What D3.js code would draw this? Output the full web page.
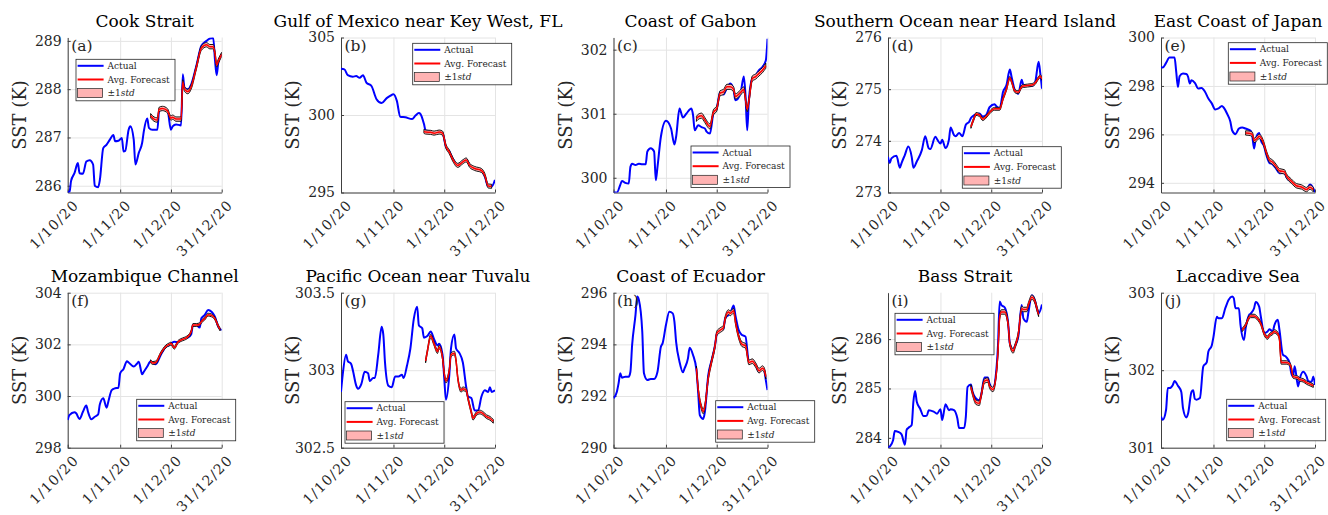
<!DOCTYPE html>
<html>
<head>
<meta charset="utf-8">
<script src="https://cdn.jsdelivr.net/npm/d3@7"></script>
<style>
  body { margin: 0; background: #fff; }
  svg text { font-family: "DejaVu Serif", serif; fill: #262626; }
  .ttl { font-size: 17px; fill: #000; }
  .ylab { font-size: 18px; }
  .tag { font-size: 15.5px; }
  .leg text { font-size: 9px; }
  .yaxis text { font-size: 14px; }
  .xaxis text { font-size: 14px; letter-spacing: 1.2px; }
  .grid line { stroke: #e4e4e4; stroke-width: 1; }
  .grid .domain { display: none; }
  .yaxis .domain, .xaxis .domain { stroke: #404040; stroke-width: 1; }
  .yaxis line, .xaxis line { stroke: #404040; }
</style>
</head>
<body>
<div id="chart"></div>
<script>
// panel titles and tags
var titles = ["Cook Strait", "Gulf of Mexico near Key West, FL", "Coast of Gabon",
  "Southern Ocean near Heard Island", "East Coast of Japan", "Mozambique Channel",
  "Pacific Ocean near Tuvalu", "Coast of Ecuador", "Bass Strait", "Laccadive Sea"];
var tags = ["(a)", "(b)", "(c)", "(d)", "(e)", "(f)", "(g)", "(h)", "(i)", "(j)"];

// y limits and ticks (SST in K)
var yDomains = [[285.86, 289.07], [295, 305], [299.77, 302.19], [273, 276], [293.6, 300],
  [298, 304], [302.5, 303.5], [290, 296], [283.8, 286.94], [301, 303]];
var yTicks = [[286, 287, 288, 289], [295, 300, 305], [300, 301, 302], [273, 274, 275, 276],
  [294, 296, 298, 300], [298, 300, 302, 304], [302.5, 303, 303.5], [290, 292, 294, 296],
  [284, 285, 286], [301, 302, 303]];

// x ticks
var xTickDates = ["2020-10-01", "2020-11-01", "2020-12-01", "2020-12-31"];

// actual SST: [day since 1/10/20, K]
var actualA = [[0,285.88],[1,285.86],[2,286.1],[4,286.26],[6,286.47],[7,286.26],[9,286.25],[11,286.5],[13,286.53],[15,286.44],[16,286.0],[18,285.97],[19,286.12],[21,286.78],[23,286.85],[25,286.96],[27,287.05],[28,286.92],[30,286.93],[32,286.99],[33,286.71],[34,286.72],[36,287.16],[37,287.23],[39,286.96],[40,286.44],[42,286.68],[44,286.89],[45,287.13],[47,287.39],[48,287.2],[50,287.16],[53,287.16],[54,287.55],[56,287.58],[59,287.55],[61,287.16],[62,287.23],[64,287.27],[67,287.25],[68,288.31],[69,288.03],[71,288.0],[73,288.1],[76,288.48],[79,288.9],[82,289.0],[84,289.05],[86,289.06],[87,288.62],[88,288.29],[89,288.55],[91,288.72]];
var actualB = [[0,302.98],[2,302.94],[4,302.57],[7,302.47],[9,302.51],[11,302.4],[13,302.57],[15,302.09],[18,301.87],[21,301.02],[24,300.77],[27,301.09],[29,301.23],[31,301.34],[33,300.91],[35,299.89],[38,299.85],[42,299.74],[44,299.96],[46,300.13],[47,300.06],[49,299.43],[50,299.0],[53,298.94],[55,298.83],[58,298.89],[60,298.83],[62,297.94],[64,297.66],[66,297.19],[69,296.77],[72,297.02],[74,297.13],[76,296.77],[79,296.55],[83,296.4],[85,296.02],[87,295.38],[89,295.38],[91,295.81]];
var actualC = [[0,299.77],[2,299.77],[4,299.89],[5,299.95],[7,299.92],[9,299.91],[10,300.17],[11,300.22],[13,300.2],[15,300.22],[17,300.21],[19,300.21],[20,300.41],[22,300.46],[24,300.41],[25,299.96],[26,300.17],[28,300.64],[31,300.89],[34,300.77],[36,300.52],[37,300.64],[39,301.08],[41,300.94],[43,301.0],[46,301.08],[47,300.98],[48,300.74],[50,300.82],[52,300.79],[54,300.77],[55,300.72],[57,300.69],[59,301.0],[61,301.08],[63,301.34],[65,301.3],[67,301.4],[69,301.47],[71,301.37],[72,301.21],[75,301.31],[77,301.58],[78,301.29],[79,300.74],[80,301.21],[82,301.55],[84,301.6],[86,301.68],[88,301.73],[90,301.83],[91,302.17]];
var actualD = [[0,273.69],[1,273.57],[2,273.66],[5,273.71],[7,273.48],[8,273.57],[10,273.73],[12,273.89],[14,273.69],[15,273.48],[17,273.6],[20,273.82],[22,274.09],[24,273.86],[25,273.84],[28,274.08],[29,274.03],[31,273.95],[32,274.02],[34,273.86],[36,274.02],[37,274.26],[39,274.11],[40,274.09],[42,274.15],[44,274.09],[46,274.31],[48,274.37],[49,274.44],[51,274.5],[54,274.53],[56,274.47],[58,274.5],[60,274.65],[63,274.71],[64,274.67],[66,274.63],[68,274.95],[70,275.08],[72,275.38],[73,275.24],[75,274.98],[77,274.91],[79,275.18],[80,275.08],[82,275.06],[85,275.06],[87,275.14],[89,275.53],[90,275.3],[91,275.01]];
var actualE = [[0,298.79],[1,298.76],[3,298.95],[5,299.17],[8,299.17],[9,298.58],[10,297.96],[11,298.4],[13,298.51],[15,298.49],[16,298.38],[17,298.1],[18,298.24],[20,298.13],[22,297.89],[24,297.92],[26,297.76],[28,297.48],[30,297.28],[32,297.03],[34,297.07],[36,297.17],[37,297.11],[39,296.86],[41,296.52],[42,296.17],[44,296.01],[46,296.24],[48,296.28],[50,296.24],[53,296.15],[54,295.9],[55,295.42],[56,295.83],[58,296.06],[59,295.76],[61,295.49],[62,295.21],[64,294.83],[66,294.76],[68,294.59],[70,294.39],[73,294.41],[74,294.25],[77,294.04],[80,293.86],[83,293.81],[86,293.73],[88,293.93],[90,293.77],[91,293.6]];
var actualF = [[0,299.07],[1,299.26],[4,299.37],[5,299.33],[7,299.11],[9,299.39],[11,299.63],[12,299.39],[14,299.1],[16,299.2],[18,299.29],[19,299.68],[21,299.91],[23,299.55],[24,299.78],[26,300.23],[28,300.3],[30,300.32],[31,300.88],[33,301.05],[35,301.35],[36,301.3],[39,301.14],[41,301.26],[42,301.33],[44,300.84],[45,300.94],[47,301.14],[49,301.35],[50,301.3],[52,301.23],[55,301.59],[58,301.91],[60,301.97],[62,302.08],[63,302.1],[65,302.08],[67,302.17],[69,302.23],[71,302.26],[73,302.39],[74,302.75],[76,302.75],[78,302.65],[79,303.01],[81,303.14],[83,303.33],[85,303.26],[87,303.07],[89,302.68],[91,302.55]];
var actualG = [[0,302.86],[1,302.97],[3,303.1],[4,303.06],[6,303.04],[7,303.0],[9,302.9],[10,302.88],[12,302.91],[14,302.99],[16,302.98],[17,302.93],[19,302.95],[20,302.95],[22,303.1],[24,303.28],[25,303.23],[26,303.05],[28,302.9],[30,302.89],[32,302.96],[34,302.96],[36,302.97],[37,302.95],[39,303.03],[41,303.14],[43,303.33],[45,303.41],[46,303.29],[48,303.27],[49,303.21],[51,303.22],[53,303.25],[55,303.2],[57,303.16],[58,303.17],[60,303.1],[61,302.95],[62,302.81],[64,302.97],[65,303.14],[67,303.23],[68,303.14],[70,303.11],[72,303.05],[74,302.89],[75,302.83],[77,302.82],[79,302.74],[81,302.74],[83,302.83],[85,302.87],[87,302.86],[88,302.89],[89,302.86],[91,302.87]];
var actualH = [[0,291.91],[2,292.17],[3,292.49],[4,292.88],[5,292.71],[7,292.75],[9,292.75],[10,292.94],[11,293.97],[13,295.14],[14,295.85],[15,295.72],[17,294.49],[18,292.88],[20,292.62],[22,292.66],[24,292.66],[26,292.94],[28,293.91],[29,294.04],[31,294.75],[33,295.26],[35,295.2],[36,294.88],[37,294.1],[39,293.33],[41,292.92],[42,293.07],[44,293.46],[45,293.87],[47,293.59],[49,293.01],[50,292.17],[51,291.26],[53,291.11],[54,291.39],[56,292.81],[58,293.39],[60,293.97],[61,294.39],[63,294.52],[65,294.62],[66,295.01],[68,295.14],[69,295.2],[71,295.5],[72,295.14],[74,294.55],[76,294.36],[78,294.3],[80,293.33],[82,293.39],[84,293.2],[86,292.94],[88,293.07],[89,293.01],[90,292.62],[91,292.23]];
var actualI = [[0,283.8],[1,283.82],[3,283.95],[4,284.14],[6,284.12],[8,284.07],[10,283.86],[11,284.16],[12,284.2],[14,284.26],[15,284.73],[16,284.95],[17,284.73],[19,284.59],[21,284.44],[23,284.45],[24,284.56],[27,284.53],[29,284.49],[31,284.58],[32,284.36],[34,284.68],[36,284.56],[37,284.58],[39,284.56],[41,284.39],[42,284.2],[45,284.2],[46,284.43],[47,285.03],[49,285.08],[50,284.93],[52,284.8],[54,284.76],[55,284.86],[57,285.22],[59,285.22],[60,285.1],[62,285.0],[64,285.37],[65,285.88],[66,286.76],[67,286.69],[69,286.64],[71,286.32],[72,285.91],[74,285.78],[75,285.86],[77,286.05],[79,286.69],[80,286.42],[82,286.35],[83,286.55],[85,286.89],[87,286.76],[88,286.62],[89,286.52],[91,286.7]];
var actualJ = [[0,301.4],[1,301.36],[3,301.49],[4,301.77],[5,301.77],[7,301.81],[8,301.86],[10,301.8],[12,301.72],[13,301.51],[15,301.39],[16,301.44],[18,301.72],[19,301.74],[20,301.63],[21,301.62],[23,301.64],[25,302.05],[27,302.1],[28,302.24],[30,302.32],[31,302.43],[33,302.69],[34,302.67],[36,302.67],[38,302.8],[40,302.91],[42,302.95],[43,302.93],[44,302.8],[46,302.8],[47,302.58],[49,302.39],[50,302.54],[52,302.71],[53,302.73],[55,302.8],[56,302.88],[58,302.82],[59,302.69],[61,302.48],[63,302.5],[64,302.53],[66,302.5],[67,302.58],[69,302.65],[70,302.52],[72,302.2],[74,302.17],[76,302.09],[77,301.96],[78,301.92],[79,302.05],[81,301.79],[82,301.89],[84,301.98],[86,301.92],[87,301.86],[89,301.85],[90,301.92],[91,301.81]];

// average forecast: [day, K]
var forecastA = [[49,287.45],[51,287.38],[53,287.36],[54,287.58],[56,287.6],[59,287.55],[61,287.4],[62,287.42],[64,287.38],[67,287.38],[68,288.15],[69,288.0],[71,287.95],[73,288.05],[76,288.45],[79,288.85],[82,288.92],[84,288.88],[86,288.88],[87,288.75],[88,288.5],[89,288.58],[91,288.72]];
var forecastB = [[49,298.95],[50,298.9],[53,298.88],[55,298.83],[58,298.9],[60,298.83],[62,297.98],[64,297.62],[66,297.15],[69,296.75],[72,296.98],[74,297.1],[76,296.75],[79,296.55],[83,296.42],[85,296.1],[87,295.42],[89,295.4]];
var forecastC = [[49,300.92],[50,300.95],[52,300.97],[54,300.9],[56,300.82],[57,300.8],[59,301.02],[61,301.08],[63,301.32],[65,301.34],[67,301.42],[69,301.42],[71,301.38],[72,301.27],[75,301.33],[77,301.38],[79,301.07],[80,301.2],[82,301.55],[84,301.58],[86,301.63],[88,301.68],[90,301.75]];
var forecastD = [[49,274.27],[51,274.45],[52,274.52],[54,274.5],[56,274.42],[58,274.47],[60,274.55],[63,274.62],[66,274.62],[68,274.82],[70,275.0],[72,275.22],[73,275.15],[75,274.96],[77,274.94],[79,275.05],[80,275.06],[85,275.08],[87,275.12],[89,275.22],[90,275.25],[91,275.2]];
var forecastE = [[50,296.06],[52,296.05],[54,296.0],[55,295.75],[57,295.85],[58,295.92],[61,295.55],[62,295.3],[64,294.95],[66,294.85],[68,294.68],[70,294.5],[73,294.45],[74,294.3],[77,294.07],[80,293.88],[83,293.83],[86,293.72],[88,293.82],[90,293.72]];
var forecastF = [[49,301.35],[50,301.28],[52,301.3],[55,301.65],[58,301.92],[60,302.0],[61,302.03],[63,301.87],[65,302.08],[67,302.17],[69,302.22],[71,302.3],[73,302.5],[74,302.75],[76,302.75],[78,302.78],[79,302.88],[81,303.0],[83,303.15],[85,303.12],[87,303.0],[89,302.7],[90,302.58]];
var forecastG = [[50,303.06],[51,303.12],[53,303.22],[55,303.17],[57,303.12],[58,303.15],[60,303.08],[61,302.98],[62,302.93],[64,303.0],[65,303.1],[67,303.11],[68,303.06],[69,302.95],[71,302.87],[72,302.88],[74,302.87],[75,302.82],[77,302.73],[78,302.69],[80,302.72],[82,302.73],[84,302.72],[86,302.7],[88,302.69],[90,302.67]];
var forecastH = [[49,293.07],[50,292.3],[52,291.55],[53,291.4],[54,291.6],[56,292.7],[58,293.35],[60,293.95],[61,294.42],[63,294.55],[65,294.65],[66,295.0],[68,295.25],[69,295.2],[71,295.3],[72,294.9],[74,294.3],[76,294.0],[78,293.95],[80,293.3],[82,293.35],[84,293.2],[86,292.98],[88,293.08],[89,293.02],[90,292.75]];
var forecastI = [[49,285.03],[50,284.9],[52,284.72],[54,284.7],[55,284.85],[57,285.15],[59,285.17],[60,285.05],[62,284.98],[64,285.3],[65,285.75],[66,286.45],[67,286.55],[69,286.55],[71,286.3],[72,285.9],[74,285.76],[75,285.85],[77,286.1],[79,286.62],[80,286.6],[82,286.6],[83,286.7],[85,286.85],[87,286.75],[88,286.62],[89,286.5]];
var forecastJ = [[48,302.52],[50,302.58],[52,302.68],[53,302.7],[55,302.7],[57,302.67],[59,302.6],[61,302.47],[63,302.42],[64,302.45],[66,302.48],[67,302.5],[69,302.47],[70,302.4],[71,302.1],[74,302.1],[76,302.08],[77,302.03],[78,301.92],[81,301.9],[82,301.88],[84,301.87],[86,301.84],[88,301.82],[90,301.8]];

// one std of the forecast ensemble, per panel (K)
var forecastStd = [0.045, 0.13, 0.04, 0.028, 0.09, 0.055, 0.012, 0.09, 0.045, 0.022];

var actualSeries = [actualA, actualB, actualC, actualD, actualE, actualF, actualG, actualH, actualI, actualJ];
var forecastSeries = [forecastA, forecastB, forecastC, forecastD, forecastE, forecastF, forecastG, forecastH, forecastI, forecastJ];

// layout
var W = 1328, H = 515;
var colLeft = [67.7, 341, 613.5, 888, 1161], rowTop = [37.5, 292.7];
var plotW = 154, plotH = 155;
var legendPos = [[76,59.3],[412.7,43.3],[691,146],[962.3,146.7],[1228.3,42.7],
                 [136.7,399.3],[345,401.7],[715.7,400.7],[895,313.3],[1226.7,399.3]];

var start = new Date(2020, 9, 1);
var dayDate = function(d) { return d3.timeDay.offset(start, d); };
var parse = d3.timeParse("%Y-%m-%d");
var fmt = d3.timeFormat("%-d/%-m/%y");

var svg = d3.select("#chart").append("svg")
  .attr("width", W).attr("height", H);

var x = d3.scaleTime().domain([start, dayDate(91)]).range([0, plotW]);

titles.forEach(function(t, i) {
  var left = colLeft[i % 5], top = rowTop[Math.floor(i / 5)];
  var y = d3.scaleLinear().domain(yDomains[i]).range([plotH, 0]);
  var g = svg.append("g").attr("transform", "translate(" + left + "," + top + ")");

  g.append("clipPath").attr("id", "clip" + i)
    .append("rect").attr("width", plotW).attr("height", plotH);

  // grid
  g.append("g").attr("class", "grid")
    .attr("transform", "translate(0," + plotH + ")")
    .call(d3.axisBottom(x).tickValues(xTickDates.map(parse)).tickSize(-plotH).tickFormat(""));
  g.append("g").attr("class", "grid")
    .call(d3.axisLeft(y).tickValues(yTicks[i]).tickSize(-plotW).tickFormat(""));

  // axes, ticks pointing in
  g.append("g").attr("class", "yaxis")
    .call(d3.axisLeft(y).tickValues(yTicks[i]).tickSize(-3).tickSizeOuter(0).tickPadding(6)
      .tickFormat(d3.format("")));
  var xa = g.append("g").attr("class", "xaxis")
    .attr("transform", "translate(0," + plotH + ")")
    .call(d3.axisBottom(x).tickValues(xTickDates.map(parse)).tickSize(-3).tickSizeOuter(0)
      .tickFormat(fmt));
  xa.selectAll("text")
    .attr("x", 0).attr("y", 0).attr("dy", "0.35em")
    .attr("text-anchor", "end")
    .attr("transform", "translate(8,10) rotate(-45)");
  g.selectAll(".yaxis text, .xaxis text").attr("fill", "#262626");

  var line = d3.line()
    .x(function(d) { return x(dayDate(d[0])); })
    .y(function(d) { return y(d[1]); })
    .curve(d3.curveMonotoneX);
  var s = forecastStd[i];
  var band = d3.area()
    .x(function(d) { return x(dayDate(d[0])); })
    .y0(function(d) { return y(d[1] - s); })
    .y1(function(d) { return y(d[1] + s); })
    .curve(d3.curveMonotoneX);

  var data = g.append("g").attr("clip-path", "url(#clip" + i + ")");
  data.append("path").datum(actualSeries[i])
    .attr("d", line).attr("fill", "none").attr("stroke", "#0000ff").attr("stroke-width", 2);
  data.append("path").datum(forecastSeries[i])
    .attr("d", band).attr("fill", "#ffb3b3").attr("stroke", "#000").attr("stroke-width", 0.9);
  data.append("path").datum(forecastSeries[i])
    .attr("d", line).attr("fill", "none").attr("stroke", "#ff0000").attr("stroke-width", 1.5);

  // labels
  g.append("text").attr("class", "ttl")
    .attr("x", plotW / 2).attr("y", -10.5).attr("text-anchor", "middle").text(t);
  g.append("text").attr("class", "ylab")
    .attr("transform", "translate(-48," + (plotH / 2) + ") rotate(-90)")
    .attr("dy", "0.35em").attr("text-anchor", "middle").text("SST (K)");
  g.append("text").attr("class", "tag")
    .attr("x", 3.5).attr("y", 13).text(tags[i]);
});

// legends on top of everything
legendPos.forEach(function(p) {
  var lg = svg.append("g").attr("class", "leg")
    .attr("transform", "translate(" + p[0] + "," + p[1] + ")");
  lg.append("rect").attr("width", 99).attr("height", 41.5)
    .attr("fill", "#fff").attr("stroke", "#262626").attr("stroke-width", 0.8);
  lg.append("line").attr("x1", 1.6).attr("x2", 27.6).attr("y1", 6.5).attr("y2", 6.5)
    .attr("stroke", "#0000ff").attr("stroke-width", 2);
  lg.append("line").attr("x1", 1.6).attr("x2", 27.6).attr("y1", 20.2).attr("y2", 20.2)
    .attr("stroke", "#ff0000").attr("stroke-width", 2);
  lg.append("rect").attr("x", 1.6).attr("y", 29.3).attr("width", 25).attr("height", 9)
    .attr("fill", "#ffb3b3").attr("stroke", "#222").attr("stroke-width", 0.7);
  lg.append("text").attr("x", 31.5).attr("y", 6.5).attr("dy", "0.35em").text("Actual");
  lg.append("text").attr("x", 31.5).attr("y", 20.2).attr("dy", "0.35em").text("Avg. Forecast");
  var t3 = lg.append("text").attr("x", 31.5).attr("y", 33.8).attr("dy", "0.35em");
  t3.append("tspan").text("\u00b11");
  t3.append("tspan").attr("font-style", "italic").text("std");
});
</script>
</body>
</html>
